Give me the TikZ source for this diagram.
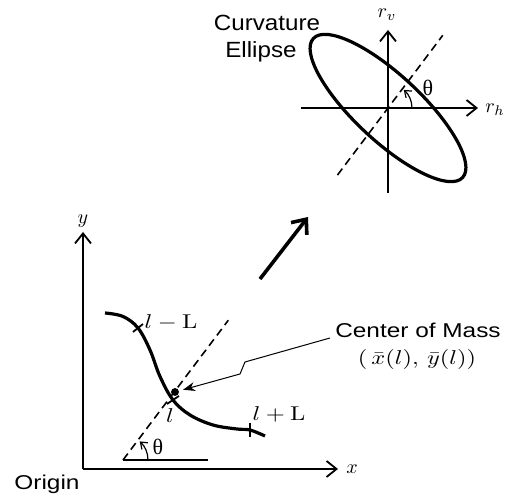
\documentclass[tikz,border=0pt]{standalone}
\usepackage{amsmath}
\usepackage{graphicx}
\usepackage{fontspec}
\newfontfamily\labelfont{Liberation Sans}
\newfontfamily\greekfont{Liberation Serif}
\usetikzlibrary{arrows.meta, positioning, calc}

\newcommand{\wtext}[1]{\scalebox{1.22}[1]{#1}}

\begin{document}
\begin{tikzpicture}[x=0.5pt, y=0.5pt,
    axis/.style={line width=0.9pt, -{Straight Barb[length=5pt, width=8pt]}},
    guide/.style={line width=0.8pt, dash pattern=on 4pt off 2.5pt},
    thick line/.style={line width=1.6pt},
    angle/.style={line width=0.6pt, -{Straight Barb[length=3pt, width=4.5pt]}},
    tickmark/.style={line width=0.9pt},
    pointer/.style={line width=0.5pt, -{Stealth[length=6pt, width=4.5pt]}, shorten >=2pt},
    dot/.style={circle, fill, inner sep=1.4pt},
    sans/.style={font=\labelfont, inner sep=0pt, anchor=base},
    greek/.style={font=\greekfont\fontsize{11}{13}\selectfont}]
    \useasboundingbox (0,0) rectangle (511,-497);

    \coordinate (E) at (388,-108);
    \draw[axis] (301,-108) -- (478,-108);
    \draw[axis] (388,-193) -- (388,-30);
    \node (rh) at (495,-110) {$r_h$};
    \node (rv) at (387,-15) {$r_v$};
    \draw[guide] ($(E)+(233:84)$) -- ($(E)+(53:91)$);
    \draw[thick line] (E) ellipse [x radius=102, y radius=33, rotate=-43];
    \draw[angle] ($(E)+(24,0)$) arc [start angle=0, end angle=49, radius=24];
    \node[greek] (thetaE) at (428,-88) {θ};
    \node[sans, font=\labelfont\fontsize{11}{13}\selectfont] (curv) at (267,-31) {\scalebox{1.1}[1]{Curvature}};
    \node[sans, font=\labelfont\fontsize{11}{13}\selectfont] (ell) at (261,-58) {\scalebox{1.1}[1]{Ellipse}};

    \draw[line width=1.8pt, -{Straight Barb[length=6pt, width=10pt]}] (260,-279) -- (308,-217);

    \coordinate (O) at (83,-469);
    \draw[axis] (O) -- (83,-232);
    \draw[axis] (O) -- (338,-469);
    \node (ylab) at (83,-221) {$y$};
    \node (xlab) at (352,-469) {$x$};
    \node[sans] (origin) at (47,-490) {\wtext{Origin}};

    \coordinate (P) at (123,-460);
    \draw[line width=0.7pt] (P) -- (208,-460);
    \draw[guide] (P) -- ++(53:175);
    \draw[angle] ($(P)+(25,0)$) arc [start angle=0, end angle=48, radius=25];
    \node[greek] (thetaP) at (158,-447) {θ};

    \draw[thick line] plot[smooth, tension=0.6] coordinates {(105,-313) (123,-316.5) (138,-328) (150,-350)
        (160,-376.5) (173,-400) (190,-415) (213,-425) (237,-429) (250,-430) (265,-436)};
    \draw[tickmark] (133,-332) -- (143,-324);
    \draw[tickmark] (167,-404) -- (179,-396);
    \draw[tickmark] (250,-423) -- (250,-437);
    \node[inner sep=0pt, anchor=base] (lminus) at (171,-329) {\wtext{$l-\mathrm{L}$}};
    \node (lmid) at (170,-416) {\wtext{$l$}};
    \node[inner sep=0pt, anchor=base] (lplus) at (279,-421) {\wtext{$l+\mathrm{L}$}};

    \node[dot] (cm) at (175,-392) {};
    \node[sans] (cmname) at (418,-338) {\wtext{Center of Mass}};
    \node[inner sep=0pt] (cmxy) at (417,-360) {\wtext{$(\,\bar{x}(l),\,\bar{y}(l))$}};
    \coordinate (cmtail) at (330,-338);
    \coordinate (zig) at (245,-362);
    \coordinate (zag) at (240,-374);
    \draw[pointer] (cmtail) -- (zig) -- (zag) -- (cm);
\end{tikzpicture}
\end{document}
